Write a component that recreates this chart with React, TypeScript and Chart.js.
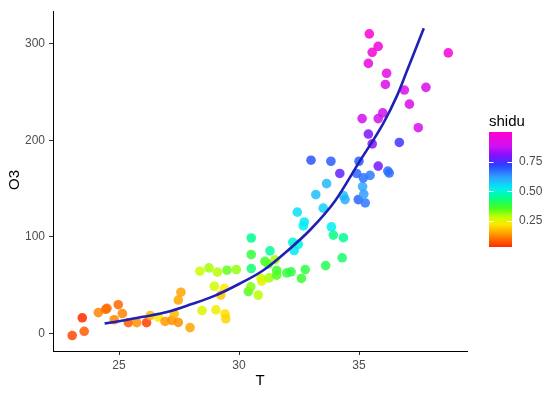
import React, { useEffect, useRef } from "react";
import { Chart, registerables } from "chart.js";

Chart.register(...registerables);

// ---- data ----
const T = [
  23.05, 23.55, 23.47, 24.14, 24.45, 24.5, 24.97, 25.14, 24.8, 25.39,
  25.74, 26.15, 26.3, 26.64, 26.92, 27.2, 27.3, 27.47, 27.47, 27.58,
  27.96, 28.37, 28.46, 29.04, 29.42, 29.45, 29.24, 29.39, 28.97, 28.75,
  29.1, 29.5, 29.89, 30.51, 30.51, 30.51, 30.39, 30.49, 30.8, 30.92,
  30.95, 31.08, 31.22, 31.29, 31.5, 31.26, 31.57, 31.57, 31.99, 32.17,
  32.76, 32.6, 33.61, 34.3, 33.93, 34.35, 33.85, 32.24, 32.47, 32.3,
  32.43, 32.72, 32.68, 33.51, 33.2, 33.65, 34.35, 34.42, 34.97, 35.26,
  35.15, 35.2, 35.18, 35.46, 36.26, 33.0, 33.83, 34.2, 35.0, 34.9,
  35.8, 36.2, 35.39, 35.55, 36.68, 35.13, 35.99, 35.8, 37.47, 37.1,
  36.89, 37.79, 36.1, 36.15, 35.39, 35.55, 35.8, 35.43, 38.72,
];
const O3 = [
  -2.4, 2, 16, 21.4, 24.8, 25.8, 29.6, 20.4, 14, 10.9,
  11, 10.9, 18.4, 16.6, 12.2, 13.3, 20, 11.2, 34.4, 42.5,
  5.8, 64.3, 23.5, 24.2, 20, 15, 39.5, 46.6, 48.7, 67.7,
  63.3, 65.3, 66, 98.7, 81.6, 67, 43.2, 48, 39.5, 56.8,
  54, 74.5, 71.7, 85.4, 76.2, 57.4, 65, 60.2, 62.6, 63.6,
  66, 56.8, 70.1, 78.2, 101.7, 99, 110.2, 94.2, 92.1, 85.7,
  125.5, 115.3, 111.2, 129.6, 143.6, 155, 142.6, 138.5, 138.5, 135,
  152, 144.2, 161, 163.6, 166, 179.3, 178.2, 165.6, 178.2, 165.6,
  173.2, 168, 206.4, 196.2, 197.7, 222.4, 228.3, 222.4, 213, 237.4,
  252, 254.8, 257.8, 269.4, 279.6, 291.1, 297.3, 310.2, 290.5,
];
const shidu = [
  0.06, 0.08, 0.03, 0.12, 0.09, 0.1, 0.09, 0.12, 0.12, 0.08,
  0.13, 0.05, 0.17, 0.22, 0.14, 0.13, 0.17, 0.13, 0.15, 0.15,
  0.15, 0.28, 0.26, 0.24, 0.21, 0.2, 0.18, 0.22, 0.27, 0.3,
  0.29, 0.34, 0.31, 0.45, 0.38, 0.43, 0.35, 0.32, 0.29, 0.28,
  0.25, 0.37, 0.35, 0.46, 0.3, 0.3, 0.37, 0.35, 0.38, 0.39,
  0.39, 0.37, 0.4, 0.42, 0.44, 0.45, 0.52, 0.5, 0.51, 0.53,
  0.54, 0.53, 0.52, 0.56, 0.58, 0.59, 0.58, 0.6, 0.68, 0.66,
  0.61, 0.62, 0.67, 0.66, 0.67, 0.7, 0.69, 0.77, 0.69, 0.68,
  0.79, 0.67, 0.8, 0.81, 0.74, 0.88, 0.89, 0.88, 0.9, 0.91,
  0.9, 0.9, 0.91, 0.92, 0.94, 0.97, 0.96, 1.0, 0.97,
];

// fitted smooth curve
const lineT = [24.4, 25, 26, 27, 28, 29, 30, 31, 32, 33, 34, 35, 36, 36.6, 37, 37.7];
const lineO3 = [10, 12.5, 17, 22, 30, 39, 51, 65, 85, 108, 137, 177, 217, 247, 272, 316];

const xTicks = [25, 30, 35];
const yTicks = [0, 100, 200, 300];
const legendTicks = [0.25, 0.5, 0.75];
const shiduMin = 0.03;
const shiduMax = 1.0;

// colour scale stops
const stopVals = [0.03, 0.1, 0.16, 0.22, 0.28, 0.36, 0.45, 0.52, 0.62, 0.72, 0.8, 0.88, 1.0];
const stopCols = [
  "#FF2A00", "#FF7000", "#FFB000", "#FFE800", "#C8FF00", "#40FF20", "#00FF90",
  "#00F0F0", "#30A0FF", "#2A40FF", "#8010FF", "#D010F0", "#FF00D0",
];

function hexToRgb(h: string) {
  return [parseInt(h.slice(1, 3), 16), parseInt(h.slice(3, 5), 16), parseInt(h.slice(5, 7), 16)];
}
function colorFor(v: number, alpha = 1) {
  let i = 0;
  if (v <= stopVals[0]) i = 0;
  else if (v >= stopVals[stopVals.length - 1]) i = stopVals.length - 2;
  else while (i < stopVals.length - 2 && v > stopVals[i + 1]) i++;
  const a = hexToRgb(stopCols[i]);
  const b = hexToRgb(stopCols[i + 1]);
  let t = (v - stopVals[i]) / (stopVals[i + 1] - stopVals[i]);
  t = Math.max(0, Math.min(1, t));
  const c = a.map((x, k) => Math.round(x + (b[k] - x) * t));
  return `rgba(${c[0]},${c[1]},${c[2]},${alpha})`;
}

const FONT = "'Liberation Sans', Arial, sans-serif";

const overlayPlugin = {
  id: "overlay",
  afterDraw(chart: any) {
    const ctx = chart.ctx as CanvasRenderingContext2D;
    ctx.save();
    // axis titles
    ctx.fillStyle = "#000";
    ctx.font = `15px ${FONT}`;
    ctx.textAlign = "center";
    ctx.textBaseline = "middle";
    ctx.fillText("T", 260, 381);
    ctx.save();
    ctx.translate(15, 180);
    ctx.rotate(-Math.PI / 2);
    ctx.fillText("O3", 0, 0);
    ctx.restore();

    // colour bar legend
    const bx = 489, bw = 23, top = 132, bottom = 247;
    const yOf = (v: number) => bottom - ((v - shiduMin) / (shiduMax - shiduMin)) * (bottom - top);
    const grad = ctx.createLinearGradient(0, bottom, 0, top);
    for (let k = 0; k <= 40; k++) {
      const v = shiduMin + ((shiduMax - shiduMin) * k) / 40;
      grad.addColorStop(k / 40, colorFor(v));
    }
    ctx.fillStyle = grad;
    ctx.fillRect(bx, top, bw, bottom - top);
    ctx.strokeStyle = "#ffffff";
    ctx.lineWidth = 1;
    legendTicks.forEach((v) => {
      const y = Math.round(yOf(v)) + 0.5;
      ctx.beginPath();
      ctx.moveTo(bx, y);
      ctx.lineTo(bx + 4.6, y);
      ctx.moveTo(bx + bw - 4.6, y);
      ctx.lineTo(bx + bw, y);
      ctx.stroke();
    });
    ctx.fillStyle = "#4d4d4d";
    ctx.font = `12px ${FONT}`;
    ctx.textAlign = "left";
    ctx.textBaseline = "middle";
    legendTicks.forEach((v) => {
      ctx.fillText(v.toFixed(2), 519, yOf(v));
    });
    ctx.fillStyle = "#000";
    ctx.font = `15px ${FONT}`;
    ctx.textBaseline = "alphabetic";
    ctx.fillText("shidu", bx, 126);
    ctx.restore();
  },
};

export default function App() {
  const ref = useRef<HTMLCanvasElement | null>(null);
  useEffect(() => {
    if (!ref.current) return;
    const pts = T.map((t, i) => ({ x: t, y: O3[i] }));
    const linePts = lineT.map((t, i) => ({ x: t, y: lineO3[i] }));
    const chart = new Chart(ref.current, {
      type: "scatter",
      data: {
        datasets: [
          {
            type: "line",
            data: linePts,
            borderColor: "#2020B4",
            borderWidth: 2.6,
            pointRadius: 0,
            fill: false,
            cubicInterpolationMode: "monotone",
            order: 0,
          } as any,
          {
            type: "scatter",
            data: pts,
            backgroundColor: shidu.map((v) => colorFor(v, 0.85)),
            borderWidth: 0,
            pointRadius: 4.8,
            order: 1,
          } as any,
        ],
      },
      options: {
        animation: false,
        responsive: false,
        devicePixelRatio: 1,
        layout: { padding: { left: 0, top: 6, right: 91, bottom: 0 } },
        plugins: { legend: { display: false }, tooltip: { enabled: false } },
        scales: {
          x: {
            type: "linear",
            min: 22.25,
            max: 39.5,
            afterBuildTicks: (s: any) => {
              s.ticks = xTicks.map((v) => ({ value: v }));
            },
            afterFit: (s: any) => {
              s.height = 45;
            },
            grid: { drawOnChartArea: false, drawTicks: true, tickLength: 4, tickColor: "#333333", tickWidth: 1 },
            border: { display: true, color: "#000000", width: 1 },
            ticks: { color: "#4d4d4d", font: { family: FONT, size: 12 }, padding: 3, maxRotation: 0 },
          },
          y: {
            type: "linear",
            min: -18.4,
            max: 333.7,
            afterBuildTicks: (s: any) => {
              s.ticks = yTicks.map((v) => ({ value: v }));
            },
            afterFit: (s: any) => {
              s.width = 53;
            },
            grid: { drawOnChartArea: false, drawTicks: true, tickLength: 4, tickColor: "#333333", tickWidth: 1 },
            border: { display: true, color: "#000000", width: 1 },
            ticks: { color: "#4d4d4d", font: { family: FONT, size: 12 }, padding: 4 },
          },
        },
      },
      plugins: [overlayPlugin],
    } as any);
    return () => chart.destroy();
  }, []);
  return (
    <div style={{ position: "absolute", left: 0, top: 0, width: 558, height: 396, background: "#fff" }}>
      <canvas ref={ref} width={558} height={396} style={{ display: "block" }} />
    </div>
  );
}
